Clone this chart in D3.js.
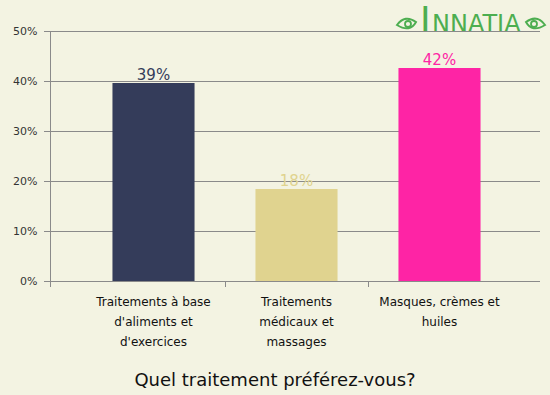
<!DOCTYPE html>
<html><head><meta charset="utf-8">
<script src="https://cdn.jsdelivr.net/npm/d3@7/dist/d3.min.js"></script>
<style>body{margin:0;background:#F3F3E2;} svg{display:block;}</style>
</head><body>
<svg id="c" width="550" height="395"></svg>
<script>
const categories = [["Traitements à base","d'aliments et","d'exercices"],["Traitements","médicaux et","massages"],["Masques, crèmes et","huiles"]];
const values = [39.6, 18.4, 42.6];
const valueLabels = ["39%","18%","42%"];
const colors = ["#343C5A","#E0D38F","#FE24A5"];
const yTicks = [0,10,20,30,40,50];
const title = "Quel traitement préférez-vous?";

(function(){
const svg = d3.select("#c");
svg.append("rect").attr("width",550).attr("height",395).attr("fill","#F3F3E2");
const font = "DejaVu Sans, Verdana, sans-serif";
const pLeft=50, pRight=540, pTop=31, pBottom=281;
const y = d3.scaleLinear().domain([0,50]).range([pBottom,pTop]);
const x = d3.scaleBand().domain(d3.range(categories.length)).range([82,511]).paddingInner(0.426).paddingOuter(0.213);

// logo (drawn under grid line)
const g = svg.append("g");
const green="#4DAE50";
g.append("text").attr("x",420).attr("y",32).attr("font-family","DejaVu Sans, sans-serif").attr("font-size",36).attr("fill",green).text("I");
g.append("text").attr("x",432).attr("y",32).attr("font-family","DejaVu Sans, sans-serif").attr("font-size",24).attr("fill",green).text("NNATIA");
[[407,1],[535,-1]].forEach(([cx,dir])=>{
  g.append("path").attr("d",`M${cx-10*dir},25 Q${cx-2*dir},14 ${cx+9*dir},22 Q${cx+3*dir},33 ${cx-10*dir},25Z`)
    .attr("fill","none").attr("stroke",green).attr("stroke-width",2);
  g.append("circle").attr("cx",cx+1*dir).attr("cy",24).attr("r",3).attr("fill","none").attr("stroke",green).attr("stroke-width",1.8);
});

// grid
svg.append("g").selectAll("line").data(yTicks).join("line")
  .attr("x1",44).attr("x2",pRight).attr("y1",d=>y(d)+0.5).attr("y2",d=>y(d)+0.5)
  .attr("stroke","#8a8a8a").attr("stroke-width",1);
// y axis
const ya = svg.append("g").attr("transform",`translate(${pLeft+0.5},0)`)
  .call(d3.axisLeft(y).tickValues(yTicks).tickFormat(d=>d+"%").tickSize(6).tickPadding(7));
ya.select(".domain").attr("stroke","#8a8a8a").attr("d",`M0,${pTop}V${pBottom}`);
ya.selectAll(".tick line").attr("stroke","#8a8a8a");
ya.selectAll("text").attr("font-family",font).attr("font-size",11).attr("fill","#333");

// bars
svg.append("g").selectAll("rect").data(values).join("rect")
  .attr("x",(d,i)=>x(i)).attr("width",x.bandwidth())
  .attr("y",d=>y(d)).attr("height",d=>pBottom-y(d))
  .attr("fill",(d,i)=>colors[i]);
svg.append("line").attr("x1",pLeft).attr("x2",pRight).attr("y1",pBottom+0.5).attr("y2",pBottom+0.5).attr("stroke","#8a8a8a");
// category ticks
const step = x.step();
const tickXs = [pLeft].concat(d3.range(1,categories.length).map(i=>x(i)-(step-x.bandwidth())/2));
svg.append("g").selectAll("line").data(tickXs).join("line")
  .attr("x1",d=>Math.round(d)+0.5).attr("x2",d=>Math.round(d)+0.5).attr("y1",pBottom).attr("y2",pBottom+6)
  .attr("stroke","#8a8a8a");

// value labels
svg.append("g").selectAll("text").data(values).join("text")
  .attr("x",(d,i)=>x(i)+x.bandwidth()/2).attr("y",d=>y(d)-3)
  .attr("text-anchor","middle").attr("font-family",font).attr("font-size",15)
  .attr("fill",(d,i)=>colors[i]).text((d,i)=>valueLabels[i]);

// category labels
const cl = svg.append("g").selectAll("text").data(categories).join("text")
  .attr("text-anchor","middle").attr("font-family",font).attr("font-size",12).attr("fill","#111");
cl.each(function(lines,i){
  d3.select(this).selectAll("tspan").data(lines).join("tspan")
    .attr("x",x(i)+x.bandwidth()/2).attr("y",(l,j)=>306+j*20).text(l=>l);
});

// title
svg.append("text").attr("x",275).attr("y",386).attr("text-anchor","middle")
  .attr("font-family",font).attr("font-size",18).attr("fill","#111").text(title);
})();
</script>
</body></html>
